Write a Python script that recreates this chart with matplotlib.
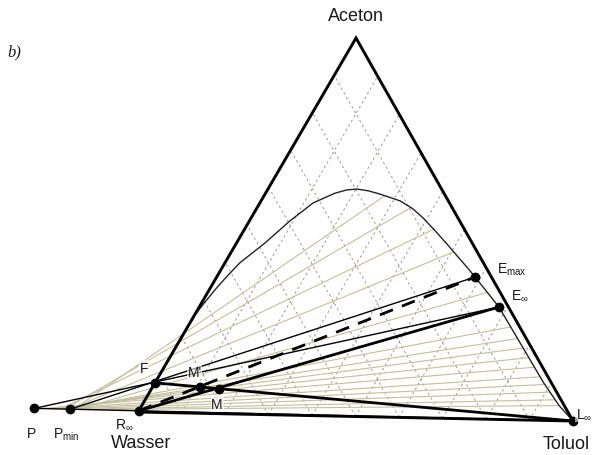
import numpy as np
import matplotlib.pyplot as plt

plt.rcParams['font.family'] = ['Liberation Sans', 'DejaVu Sans']
plt.rcParams['mathtext.fontset'] = 'custom'
plt.rcParams['mathtext.rm'] = 'Liberation Sans'
plt.rcParams['mathtext.it'] = 'Liberation Sans:italic'

# --- data: compositions as mass fractions (a = Aceton, t = Toluol, w = 1-a-t) ---
# binodal curve, from the water corner over the plait region down to toluene
bin_a = [0.003, 0.10, 0.20, 0.257, 0.29, 0.327, 0.365, 0.40, 0.454, 0.513, 0.562,
         0.589, 0.598, 0.601, 0.597, 0.589, 0.572, 0.552, 0.528, 0.495, 0.461,
         0.430, 0.401, 0.375, 0.297, 0.20, 0.10, 0.04, 0.0]
bin_t = [0.0, 0.0, 0.0, 0.0, 0.006, 0.013, 0.023, 0.034, 0.065, 0.092, 0.121,
         0.158, 0.18, 0.202, 0.23, 0.261, 0.316, 0.355, 0.391, 0.435, 0.479,
         0.518, 0.555, 0.587, 0.681, 0.78, 0.882, 0.948, 1.0]

# tie lines, extended to the R-L line: extract end (a, t) and crossing t on the R-L line
tie_ext_a = [0.04, 0.055, 0.075, 0.095, 0.115, 0.14, 0.165, 0.19, 0.215, 0.245,
             0.335, 0.44, 0.50, 0.555, 0.585]
tie_ext_t = [0.948, 0.931, 0.909, 0.887, 0.867, 0.841, 0.816, 0.79, 0.765, 0.734,
             0.635, 0.505, 0.431, 0.349, 0.274]
tie_base_t = [-0.10, -0.13, -0.16, -0.18, -0.20, -0.22, -0.21, -0.19, -0.17, -0.16,
              -0.14, -0.16, -0.18, -0.17, -0.15]
tie_base_a = 0.004

# named points
pt_names = ['F', 'M', "M'", 'R', 'L', 'Emax', 'Einf', 'P', 'Pmin']
pt_a = [0.078, 0.066, 0.0697, 0.003, 0.0, 0.375, 0.297, 0.004, 0.0035]
pt_t = [0.0, 0.152, 0.108, 0.0, 1.0, 0.587, 0.681, -0.24, -0.158]
pt_labels = ['F', 'M', "M'", r'R$_{\infty}$', r'L$_{\infty}$', r'E$_{\mathrm{max}}$',
             r'E$_{\infty}$', 'P', r'P$_{\mathrm{min}}$']

grid_steps = [0.1, 0.2, 0.3, 0.4, 0.5, 0.6, 0.7, 0.8, 0.9]
corner_labels = ['Wasser', 'Toluol', 'Aceton']

# --- layout: where the three corners sit on the scanned page (pixels) ---
W_PX = np.array([138.0, 413.0])
T_PX = np.array([573.0, 422.0])
A_PX = np.array([356.0, 39.0])


def tern(a, t):
    a = np.asarray(a, float)
    t = np.asarray(t, float)
    w = 1 - a - t
    x = w * W_PX[0] + t * T_PX[0] + a * A_PX[0]
    y = w * W_PX[1] + t * T_PX[1] + a * A_PX[1]
    return x, y


pts = {n: (a, t) for n, a, t in zip(pt_names, pt_a, pt_t)}


def seg(ax, p, q, **kw):
    x, y = tern([pts[p][0], pts[q][0]], [pts[p][1], pts[q][1]])
    ax.plot(x, y, solid_capstyle='butt', **kw)


fig = plt.figure(figsize=(5.98, 4.56), dpi=100)
ax = fig.add_axes([0, 0, 1, 1])
ax.set_xlim(0, 598)
ax.set_ylim(456, 0)
ax.axis('off')

# dotted grid parallel to the two slanted sides
for k in grid_steps:
    x, y = tern([0, 1 - k], [k, k])
    ax.plot(x, y, color='#9a9a8e', lw=0.7, dashes=(2.5, 3), zorder=1)
    x, y = tern([0, 1 - k], [1 - k, 0])
    ax.plot(x, y, color='#9a9a8e', lw=0.7, dashes=(2.5, 3), zorder=1)

# extended tie lines
for ea, et, bt in zip(tie_ext_a, tie_ext_t, tie_base_t):
    x, y = tern([tie_base_a, ea], [bt, et])
    ax.plot(x, y, color='#c4bf9c', lw=0.8, zorder=2)

# binodal
x, y = tern(bin_a, bin_t)
ax.plot(x, y, color='#222222', lw=1.0, zorder=3)

# triangle
x, y = tern([0, 0, 1, 0], [0, 1, 0, 0])
ax.plot(x, y, color='black', lw=2.1, zorder=5, solid_joinstyle='miter')

# construction lines
seg(ax, 'P', 'L', color='black', lw=1.0, zorder=4)
seg(ax, 'P', 'Einf', color='black', lw=1.0, zorder=4)
seg(ax, 'Pmin', 'Emax', color='black', lw=1.0, zorder=4)
seg(ax, 'F', 'L', color='black', lw=2.0, zorder=4)
seg(ax, 'R', 'Einf', color='black', lw=2.0, zorder=4)
x, y = tern([pts['R'][0], pts['Emax'][0]], [pts['R'][1], pts['Emax'][1]])
ax.plot(x, y, color='black', lw=2.0, dashes=(5, 3.5), zorder=4)

# points
x, y = tern(pt_a, pt_t)
ax.plot(x, y, 'o', color='black', ms=6, zorder=6)

offsets = {
    'F': (-8, 11, 'center'), 'M': (-1, -11, 'center'), "M'": (-4, 11, 'center'),
    'R': (-17, -9, 'left'), 'L': (2, 5, 'left'), 'Emax': (16, 6, 'left'),
    'Einf': (9, 9, 'left'), 'P': (-2, -18, 'center'), 'Pmin': (-12, -18, 'left'),
}
for n, lab, xi, yi in zip(pt_names, pt_labels, x, y):
    dx, dy, ha = offsets[n]
    ax.annotate(lab, (xi, yi), xytext=(dx, dy), textcoords='offset points',
                ha=ha, va='center', fontsize=10, color='#1a1a1a', zorder=7,
                bbox=dict(boxstyle='square,pad=0.05', fc='white', ec='none', alpha=0.6))

# corner names
cx, cy = tern([0, 0, 1], [0, 1, 0])
ax.annotate(corner_labels[0], (cx[0], cy[0]), xytext=(2, -22), textcoords='offset points',
            ha='center', va='center', fontsize=13, color='#1a1a1a')
ax.annotate(corner_labels[1], (cx[1], cy[1]), xytext=(-5, -16), textcoords='offset points',
            ha='center', va='center', fontsize=13, color='#1a1a1a')
ax.annotate(corner_labels[2], (cx[2], cy[2]), xytext=(0, 16), textcoords='offset points',
            ha='center', va='center', fontsize=13, color='#1a1a1a')

ax.text(14, 52, 'b)', fontsize=12, style='italic', family='Liberation Serif',
        ha='center', va='center', color='#1a1a1a')

fig.savefig('out.png', dpi=100)
